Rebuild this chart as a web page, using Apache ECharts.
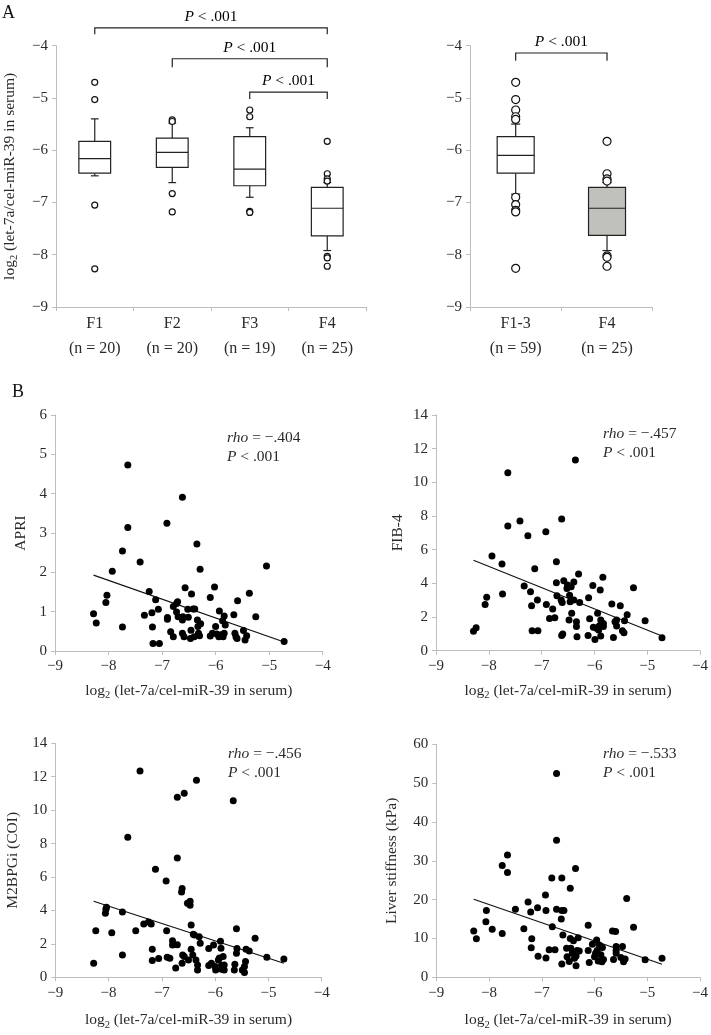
<!DOCTYPE html>
<html><head><meta charset="utf-8">
<script src="https://cdn.jsdelivr.net/npm/echarts@6/dist/echarts.min.js"></script>
<style>html,body{margin:0;padding:0;background:#fff}#c{width:711px;height:1035px}</style>
</head><body><div id="c"></div>
<script>
// ---------------- DATA ----------------
const boxCatsA = ['F1', 'F2', 'F3', 'F4'];
const boxNA = ['n = 20', 'n = 20', 'n = 19', 'n = 25'];
// [lower whisker, Q1, median, Q3, upper whisker]
const boxStatsA = [
  [-6.49, -6.44, -6.16, -5.83, -5.40],
  [-6.62, -6.33, -6.04, -5.77, -5.48],
  [-6.90, -6.68, -6.36, -5.74, -5.57],
  [-7.92, -7.64, -7.11, -6.71, -6.62]
];
const outliersA = [
  [-4.70, -5.03, -7.05, -8.27],
  [-5.42, -5.45, -6.83, -7.18],
  [-5.23, -5.36, -7.17, -7.19],
  [-5.83, -6.45, -6.55, -6.59, -8.03, -8.06, -8.22]
];
const boxCatsB = ['F1-3', 'F4'];
const boxNB = ['n = 59', 'n = 25'];
const boxStatsB = [
  [-6.84, -6.44, -6.10, -5.74, -5.50],
  [-7.92, -7.63, -7.11, -6.71, -6.62]
];
const outliersB = [
  [-4.70, -5.03, -5.23, -5.36, -5.41, -6.90, -7.04, -7.15, -7.18, -8.26],
  [-5.83, -6.45, -6.55, -6.59, -8.02, -8.05, -8.22]
];
const bracketPairsA = [[0, 3], [1, 3], [2, 3]];
const bracketPairsB = [[0, 1]];
const pLabel = 'P < .001';

const apriPts = [[-8.28,0.95],[-8.23,0.71],[-8.05,1.23],[-8.03,1.42],[-7.93,2.03],[-7.74,2.54],[-7.74,0.61],[-7.64,4.73],[-7.64,3.14],[-7.41,2.26],[-7.33,0.91],[-7.24,1.51],[-7.19,0.97],[-7.18,0.61],[-7.17,0.19],[-7.12,1.30],[-7.07,1.06],[-7.05,0.19],[-6.91,3.25],[-6.90,0.85],[-6.90,0.81],[-6.84,0.49],[-6.79,0.36],[-6.79,1.13],[-6.73,1.21],[-6.71,1.25],[-6.73,0.99],[-6.70,0.87],[-6.62,3.91],[-6.62,0.45],[-6.62,0.79],[-6.61,0.87],[-6.59,0.36],[-6.57,1.61],[-6.52,1.06],[-6.51,0.86],[-6.47,0.32],[-6.46,0.53],[-6.45,1.45],[-6.42,1.07],[-6.40,0.36],[-6.39,1.07],[-6.35,2.72],[-6.34,0.79],[-6.33,0.62],[-6.32,0.45],[-6.29,2.08],[-6.28,0.69],[-6.30,0.39],[-6.10,1.36],[-6.10,0.38],[-6.06,0.45],[-6.02,1.63],[-6.00,0.62],[-5.98,0.43],[-5.94,0.36],[-5.93,1.02],[-5.90,0.41],[-5.87,0.77],[-5.84,0.89],[-5.84,0.45],[-5.82,0.66],[-5.86,0.36],[-5.66,0.92],[-5.64,0.45],[-5.62,0.36],[-5.59,1.28],[-5.60,0.32],[-5.48,0.52],[-5.45,0.28],[-5.42,0.39],[-5.37,1.47],[-5.25,0.87],[-5.05,2.16],[-4.72,0.24]];
const apriTrend = [[-8.28, 1.93], [-4.72, 0.23]];

const fib4Pts = [[-8.29,1.15],[-8.24,1.37],[-8.07,2.75],[-8.04,3.17],[-7.94,5.62],[-7.75,5.15],[-7.74,3.37],[-7.64,10.57],[-7.64,7.41],[-7.41,7.70],[-7.33,3.84],[-7.26,6.83],[-7.21,3.50],[-7.19,2.67],[-7.18,1.19],[-7.13,4.87],[-7.08,3.01],[-7.07,1.19],[-6.92,7.07],[-6.91,2.75],[-6.85,1.92],[-6.79,2.48],[-6.75,1.96],[-6.72,5.29],[-6.72,4.04],[-6.71,3.27],[-6.63,3.01],[-6.62,7.82],[-6.62,0.91],[-6.60,0.99],[-6.61,2.87],[-6.58,4.16],[-6.52,3.70],[-6.51,3.90],[-6.48,1.82],[-6.47,3.29],[-6.46,2.91],[-6.44,3.80],[-6.43,2.22],[-6.39,4.08],[-6.39,3.01],[-6.36,11.33],[-6.34,1.72],[-6.34,1.43],[-6.33,0.83],[-6.30,4.55],[-6.28,2.87],[-6.12,0.91],[-6.11,3.15],[-6.09,1.90],[-6.03,3.88],[-6.02,1.39],[-5.99,0.67],[-5.96,1.33],[-5.94,2.22],[-5.92,1.23],[-5.91,1.47],[-5.89,3.60],[-5.88,1.82],[-5.88,0.87],[-5.86,1.52],[-5.84,4.36],[-5.83,1.62],[-5.83,1.43],[-5.67,2.77],[-5.64,0.79],[-5.61,1.72],[-5.58,1.47],[-5.58,1.82],[-5.51,2.67],[-5.47,1.19],[-5.44,1.07],[-5.43,1.78],[-5.38,2.14],[-5.26,3.74],[-5.04,1.78],[-4.72,0.77]];
const fib4Trend = [[-8.29, 5.37], [-4.72, 0.87]];

const m2Pts = [[-8.28,0.84],[-8.24,2.79],[-8.06,3.83],[-8.05,4.07],[-8.04,4.19],[-7.94,2.67],[-7.74,3.91],[-7.74,1.34],[-7.64,8.38],[-7.49,2.79],[-7.41,12.35],[-7.34,3.19],[-7.25,3.31],[-7.20,3.19],[-7.18,1.68],[-7.18,1.00],[-7.12,6.46],[-7.06,1.12],[-6.92,5.76],[-6.91,2.79],[-6.90,1.20],[-6.85,1.14],[-6.80,2.19],[-6.80,1.93],[-6.74,0.56],[-6.71,10.77],[-6.71,7.14],[-6.71,1.95],[-6.62,0.84],[-6.62,5.31],[-6.63,5.11],[-6.61,1.34],[-6.58,1.24],[-6.58,11.01],[-6.52,4.43],[-6.50,1.04],[-6.47,4.55],[-6.47,4.31],[-6.45,1.68],[-6.45,3.13],[-6.42,1.34],[-6.41,2.57],[-6.39,2.53],[-6.36,1.04],[-6.35,11.79],[-6.33,0.74],[-6.33,0.44],[-6.30,2.43],[-6.28,2.03],[-6.12,1.72],[-6.12,0.70],[-6.07,0.84],[-6.03,1.93],[-6.00,0.64],[-5.99,0.44],[-5.94,1.04],[-5.92,1.16],[-5.90,2.15],[-5.89,1.74],[-5.88,0.72],[-5.88,0.48],[-5.85,1.24],[-5.83,0.74],[-5.83,0.44],[-5.66,10.57],[-5.64,0.44],[-5.63,0.78],[-5.60,2.91],[-5.59,1.72],[-5.60,1.44],[-5.49,0.44],[-5.45,0.64],[-5.45,0.28],[-5.43,0.94],[-5.42,1.68],[-5.36,1.58],[-5.25,2.33],[-5.03,1.20],[-4.71,1.10]];
const m2Trend = [[-8.28, 4.55], [-4.71, 0.84]];

const lsPts = [[-8.29,11.9],[-8.24,9.9],[-8.06,14.3],[-8.05,17.2],[-7.94,12.4],[-7.75,28.8],[-7.75,11.3],[-7.65,31.5],[-7.65,27.0],[-7.50,17.5],[-7.34,12.5],[-7.26,19.4],[-7.21,16.8],[-7.19,9.9],[-7.20,7.6],[-7.08,17.9],[-7.07,5.4],[-6.93,21.2],[-6.92,17.2],[-6.92,5.0],[-6.86,7.1],[-6.81,25.6],[-6.80,13.0],[-6.75,7.1],[-6.72,52.5],[-6.72,35.3],[-6.72,17.5],[-6.63,15.0],[-6.62,17.2],[-6.62,25.6],[-6.62,3.4],[-6.60,10.9],[-6.58,17.2],[-6.53,7.5],[-6.52,5.3],[-6.48,4.1],[-6.46,10.0],[-6.46,22.9],[-6.45,7.5],[-6.42,6.2],[-6.40,9.4],[-6.38,4.9],[-6.36,28.0],[-6.35,5.5],[-6.35,3.0],[-6.33,6.9],[-6.31,10.2],[-6.29,6.8],[-6.12,13.4],[-6.12,6.9],[-6.10,3.8],[-6.04,8.5],[-6.00,5.3],[-5.98,6.2],[-5.96,9.6],[-5.95,6.9],[-5.93,4.2],[-5.91,8.3],[-5.88,5.8],[-5.86,4.0],[-5.85,7.7],[-5.83,4.6],[-5.66,11.9],[-5.64,4.6],[-5.60,11.8],[-5.59,7.9],[-5.59,6.2],[-5.59,6.9],[-5.50,5.1],[-5.47,7.9],[-5.45,4.0],[-5.42,4.7],[-5.39,20.3],[-5.26,12.9],[-5.04,4.5],[-4.72,4.9]];
const lsTrend = [[-8.29, 20.1], [-4.72, 3.35]];

const rhoLabels = ['−.404', '−.457', '−.456', '−.533'];
const yNames = ['APRI', 'FIB-4', 'M2BPGi (COI)', 'Liver stiffness (kPa)'];

// ---------------- STYLE ----------------
const FONT = '"Liberation Serif", "DejaVu Serif", serif';
const AX = '#bdbdbd';
const TXT = '#2a2a2a';
const TICKFS = 15;
const minus = v => String(v).replace('-', '−');

const logRich = {
  a: { fontFamily: FONT, fontSize: 15.5, color: TXT, lineHeight: 20 },
  s: { fontFamily: FONT, fontSize: 10.5, color: TXT, lineHeight: 9, verticalAlign: 'bottom' }
};
const logName = '{a|log}{s|2}{a| (let-7a/cel-miR-39 in serum)}';

function valueAxis(gi, min, max, interval, extra) {
  return Object.assign({
    type: 'value', gridIndex: gi, min, max, interval,
    axisLine: { show: true, lineStyle: { color: AX, width: 1 } },
    axisTick: { show: true, length: 4, lineStyle: { color: AX } },
    splitLine: { show: false },
    axisLabel: { fontFamily: FONT, fontSize: TICKFS, color: TXT, margin: 8, formatter: minus }
  }, extra || {});
}

const grids = [
  { left: 56, top: 45.7, width: 310, height: 261.3 },
  { left: 470, top: 45.7, width: 182.7, height: 261.3 },
  { left: 55, top: 415, width: 267.7, height: 236 },
  { left: 436, top: 415, width: 266.7, height: 235.7 },
  { left: 55.3, top: 743.3, width: 266.4, height: 234 },
  { left: 436.3, top: 744.3, width: 263.7, height: 233 }
];

function catAxis(gi, cats, ns) {
  return {
    type: 'category', gridIndex: gi, data: cats,
    axisLine: { show: true, lineStyle: { color: AX } },
    axisTick: { show: true, length: 4, lineStyle: { color: AX } },
    axisLabel: {
      fontFamily: FONT, fontSize: 16, color: TXT, lineHeight: 25, margin: 4,
      formatter: (v, i) => v + '\n(' + ns[i] + ')'
    }
  };
}

function boxRender(fill, boxFrac, capFrac) {
  return function (params, api) {
    const i = api.value(0);
    const band = api.size([1, 0])[0];
    const w = band * boxFrac, cw = band * capFrac;
    const pl = api.coord([i, api.value(1)]);
    const p1 = api.coord([i, api.value(2)]);
    const pm = api.coord([i, api.value(3)]);
    const p3 = api.coord([i, api.value(4)]);
    const ph = api.coord([i, api.value(5)]);
    const x = pm[0];
    const st = { stroke: '#222', lineWidth: 1.2, fill: null };
    return {
      type: 'group',
      children: [
        { type: 'line', shape: { x1: x, y1: p3[1], x2: x, y2: ph[1] }, style: st },
        { type: 'line', shape: { x1: x, y1: p1[1], x2: x, y2: pl[1] }, style: st },
        { type: 'line', shape: { x1: x - cw / 2, y1: ph[1], x2: x + cw / 2, y2: ph[1] }, style: st },
        { type: 'line', shape: { x1: x - cw / 2, y1: pl[1], x2: x + cw / 2, y2: pl[1] }, style: st },
        { type: 'rect', shape: { x: x - w / 2, y: p3[1], width: w, height: p1[1] - p3[1] },
          style: { stroke: '#222', lineWidth: 1.2, fill: fill } },
        { type: 'line', shape: { x1: x - w / 2, y1: pm[1], x2: x + w / 2, y2: pm[1] }, style: st }
      ]
    };
  };
}
function boxSeries(gi, stats, fills, boxFrac) {
  return stats.map((s, i) => ({
    type: 'custom', xAxisIndex: gi, yAxisIndex: gi,
    renderItem: boxRender(fills[i], boxFrac, 0.1),
    data: [[i].concat(s)], z: 2, silent: true
  }));
}
function outlierSeries(gi, outs, size) {
  const data = [];
  outs.forEach((arr, i) => arr.forEach(v => data.push([i, v])));
  return {
    type: 'scatter', xAxisIndex: gi, yAxisIndex: gi, data, symbol: 'circle', symbolSize: size,
    itemStyle: { color: '#fff', borderColor: '#111', borderWidth: 1.2, opacity: 1 }, z: 3, silent: true
  };
}
const pRich = {
  i: { fontFamily: FONT, fontSize: 15.5, fontStyle: 'italic', color: TXT },
  n: { fontFamily: FONT, fontSize: 15.5, color: TXT }
};
const pText = '{i|P}{n|' + pLabel.slice(1) + '}';
function bracketSeries(gi, pairs, levels) {
  return {
    type: 'custom', xAxisIndex: gi, yAxisIndex: gi, silent: true, clip: false,
    renderItem: function (params, api) {
      const a = api.value(0), b = api.value(1), lv = api.value(2), dr = api.value(3);
      const pa = api.coord([a, lv]), pb = api.coord([b, lv]);
      const d = api.coord([a, dr])[1];
      return {
        type: 'group',
        children: [
          { type: 'polyline', shape: { points: [[pa[0], d], [pa[0], pa[1]], [pb[0], pb[1]], [pb[0], d]] },
            style: { stroke: '#222', lineWidth: 1.2, fill: null } },
          { type: 'text', style: { x: (pa[0] + pb[0]) / 2, y: pa[1] - 3, text: pText, rich: pRich,
            align: 'center', verticalAlign: 'bottom' } }
        ]
      };
    },
    data: pairs.map((p, k) => [p[0], p[1], levels[k][0], levels[k][1]])
  };
}

const scatterSets = [apriPts, fib4Pts, m2Pts, lsPts];
const trendSets = [apriTrend, fib4Trend, m2Trend, lsTrend];
const yRanges = [[0, 6, 1], [0, 14, 2], [0, 14, 2], [0, 60, 10]];
const yNameGaps = [26, 30, 34, 36];
const xNameGaps = [30, 30, 33, 33];

const xAxes = [catAxis(0, boxCatsA, boxNA), catAxis(1, boxCatsB, boxNB)];
const yAxes = [
  valueAxis(0, -9, -4, 1, {
    name: logName, nameLocation: 'middle', nameRotate: 90, nameGap: 36,
    nameTextStyle: { rich: logRich }
  }),
  valueAxis(1, -9, -4, 1)
];
for (let k = 0; k < 4; k++) {
  xAxes.push(valueAxis(k + 2, -9, -4, 1, {
    name: logName, nameLocation: 'middle', nameGap: xNameGaps[k],
    nameTextStyle: { rich: logRich },
    axisLabel: { fontFamily: FONT, fontSize: TICKFS, color: TXT, margin: 8, formatter: minus }
  }));
  yAxes.push(valueAxis(k + 2, yRanges[k][0], yRanges[k][1], yRanges[k][2], {
    name: yNames[k], nameLocation: 'middle', nameRotate: 90, nameGap: yNameGaps[k],
    nameTextStyle: { fontFamily: FONT, fontSize: 15.5, color: TXT }
  }));
}

const series = [].concat(
  boxSeries(0, boxStatsA, ['#fff', '#fff', '#fff', '#fff'], 0.41),
  [outlierSeries(0, outliersA, 6)],
  [bracketSeries(0, bracketPairsA, [[-3.66, -3.78], [-4.25, -4.41], [-4.89, -5.02]])],
  boxSeries(1, boxStatsB, ['#fff', '#c0c0bc'], 0.405),
  [outlierSeries(1, outliersB, 8)],
  [bracketSeries(1, bracketPairsB, [[-4.14, -4.29]])]
);
for (let k = 0; k < 4; k++) {
  series.push({
    type: 'scatter', xAxisIndex: k + 2, yAxisIndex: k + 2, data: scatterSets[k],
    symbol: 'circle', symbolSize: 7, itemStyle: { color: '#000', opacity: 1 }, silent: true, z: 3
  });
  series.push({
    type: 'line', xAxisIndex: k + 2, yAxisIndex: k + 2, data: trendSets[k], showSymbol: false,
    lineStyle: { color: '#111', width: 1.2 }, silent: true, z: 2
  });
}

const annRich = { i: { fontFamily: FONT, fontSize: 15.5, fontStyle: 'italic', fill: TXT } };
const annPos = [[227, 428], [603, 424], [228, 744], [603, 744]];
const graphics = [
  { type: 'text', left: 2, top: 4, style: { text: 'A', font: '18px ' + FONT, fill: '#111' } },
  { type: 'text', left: 12, top: 383, style: { text: 'B', font: '18px ' + FONT, fill: '#111' } }
];
annPos.forEach((p, k) => graphics.push({
  type: 'text', left: p[0], top: p[1],
  style: {
    text: '{i|rho} = ' + rhoLabels[k] + '\n{i|P} < .001', rich: annRich,
    font: '15.5px ' + FONT, fill: TXT, lineHeight: 19
  }
}));

const chart = echarts.init(document.getElementById('c'), null, { renderer: 'canvas' });
chart.setOption({
  animation: false,
  backgroundColor: '#fff',
  grid: grids,
  xAxis: xAxes,
  yAxis: yAxes,
  series,
  graphic: graphics
});
</script></body></html>
